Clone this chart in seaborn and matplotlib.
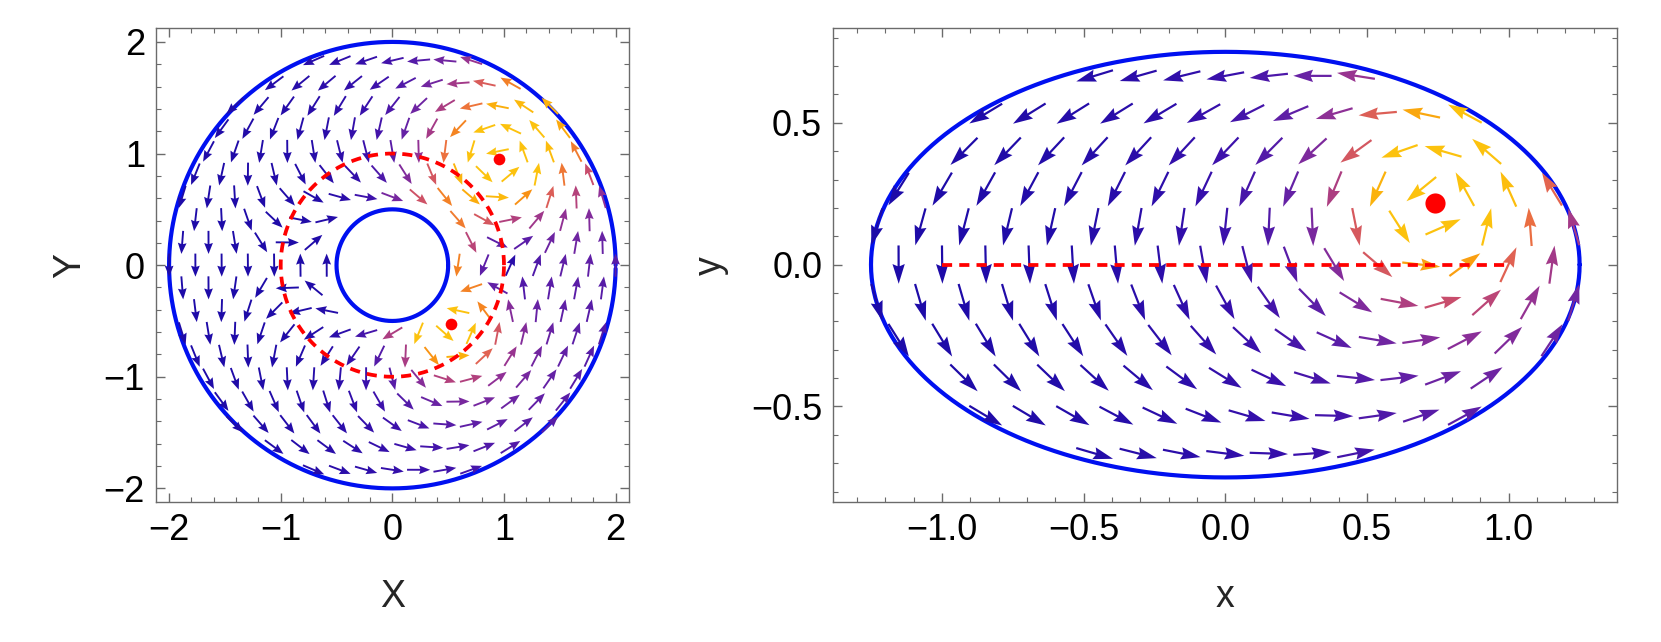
import numpy as np
import matplotlib
matplotlib.use("Agg")
import matplotlib.pyplot as plt
from matplotlib.ticker import MultipleLocator
import seaborn as sns

# ---------------------------------------------------------------------------
# Chart data
# Point vortex inside an ellipse, shown in the annulus plane (left, X/Y)
# and mapped to the ellipse with w = (Z + 1/Z) / 2 (right, x/y)
annulus_radii = [0.5, 2.0]            # inner / outer circle of the annulus
slit_circle_radius = 1.0              # dashed red circle, maps to the slit
vortex_Z = [0.955, 0.955]             # vortex position in the annulus plane
slit_ends = [-1.0, 1.0]               # dashed red segment in the ellipse plane

left_ticks = [-2, -1, 0, 1, 2]
right_xticks = [-1.0, -0.5, 0.0, 0.5, 1.0]
right_yticks = [-0.5, 0.0, 0.5]

# colour ramp of the arrows (slow -> fast)
arrow_colours = ["#1d0ba8", "#3a10ab", "#6220a6", "#8f3096", "#c44a70",
                 "#e8694a", "#f88c16", "#fbae0c", "#fcc20e"]

# ---------------------------------------------------------------------------
sns.set_theme(style="ticks")
plt.rcParams['font.family'] = ['Liberation Sans', 'DejaVu Sans']
plt.rcParams['axes.unicode_minus'] = True

a, b = annulus_radii
z0 = complex(vortex_Z[0], vortex_Z[1])
z1 = 1 / z0               # the second pre-image of the same point in the ellipse
q = (a / b) ** 2


def image_sum(Z, zeta, deriv=True, N=5):
    # method of images for a vortex in the annulus a < |Z| < b
    out = 0
    for n in range(-N, N + 1):
        p = zeta * q ** n
        m = b * b * q ** n / np.conj(zeta)
        if deriv:
            out = out + 1 / (Z - p) - 1 / (Z - m)
        else:
            out = out + np.log(np.abs(Z - p)) - np.log(np.abs(Z - m))
    return out


# log|Z| term so the stream function is the same (zero) on both circles
th = np.linspace(0, 2 * np.pi, 400, endpoint=False)
m_in = np.mean(image_sum(a * np.exp(1j * th), z0, False) + image_sum(a * np.exp(1j * th), z1, False))
m_out = np.mean(image_sum(b * np.exp(1j * th), z0, False) + image_sum(b * np.exp(1j * th), z1, False))
alpha = (m_out - m_in) / (np.log(a) - np.log(b))


def vel_Z(Z):
    dF = image_sum(Z, z0) + image_sum(Z, z1) + alpha / Z
    uv = -1j * dF            # u - i v
    return uv.real, -uv.imag


def vel_w(w):
    Z = w + np.sqrt(w * w - 1 + 0j)
    Z = np.where(np.abs(Z) < 1, 1 / Z, Z)
    dF = image_sum(Z, z0) + image_sum(Z, z1) + alpha / Z
    uv = -1j * dF / (0.5 * (1 - 1 / Z ** 2))
    return uv.real, -uv.imag


def hex_grid(xmax, ymax, d):
    dy = d * np.sqrt(3) / 2
    nk = int(ymax / dy) + 1
    nj = int(xmax / d) + 2
    pts = []
    for k in range(-nk, nk + 1):
        off = 0.5 * d if k % 2 == 0 else 0.0
        for j in range(-nj, nj + 1):
            pts.append((j * d + off, k * dy))
    pts = np.array(pts)
    return pts[:, 0], pts[:, 1]


cmap = sns.blend_palette(arrow_colours, as_cmap=True)


def draw_arrows(ax, X, Y, U, V, L, width, hw, hl, hal, top=95):
    s = np.hypot(U, V)
    lo, hi = s.min(), np.percentile(s, top)
    c = np.clip((s - lo) / (hi - lo), 0, 1)
    ax.quiver(X, Y, U / s * L, V / s * L, color=cmap(c), angles='xy',
              scale_units='xy', scale=1, pivot='middle', units='dots',
              width=width, headwidth=hw, headlength=hl, headaxislength=hal,
              zorder=3)


def style_axes(ax, minor):
    for sp in ax.spines.values():
        sp.set_color('#6b6b6b')
        sp.set_linewidth(1.0)
    ax.xaxis.set_minor_locator(MultipleLocator(minor))
    ax.yaxis.set_minor_locator(MultipleLocator(minor))
    ax.tick_params(which='both', direction='in', top=True, right=True,
                   color='#6b6b6b', labelsize=26, labelcolor='black')
    ax.tick_params(which='major', length=6.5, width=1.0, pad=8)
    ax.tick_params(which='minor', length=3.4, width=0.8)


def minus(v, fmt):
    return (fmt % v).replace('-', '\u2212')


fig = plt.figure(figsize=(16.61, 6.42), dpi=100)
ax1 = fig.add_axes([156 / 1661, 140 / 642, 472.7 / 1661, 473.7 / 642])
ax2 = fig.add_axes([833.3 / 1661, 140 / 642, 784 / 1661, 473.7 / 642])

# ---------------- left: annulus plane ----------------
xl1, yl1 = 2.117, 2.122
d1 = 2 * xl1 / 18
X, Y = hex_grid(xl1, yl1, d1)
r = np.hypot(X, Y)
keep = (r > 0.55) & (r < 2.01)
X, Y = X[keep], Y[keep]
U, V = vel_Z(X + 1j * Y)
draw_arrows(ax1, X, Y, U, V, 0.88 * d1, 1.9, 4.6, 5.8, 5.2)

for rad in annulus_radii:
    ax1.plot(rad * np.cos(th), rad * np.sin(th), color='#0010f0', lw=3.0, zorder=2)
ax1.plot(np.append(np.cos(th), 1), np.append(np.sin(th), 0), color='red', lw=2.7,
         linestyle=(0, (2.7, 1.9)), zorder=4)
ax1.plot([z0.real, z1.real], [z0.imag, z1.imag], 'o', color='red', ms=8.4, mec='none', zorder=5)

ax1.set_xlim(-xl1, xl1)
ax1.set_ylim(-yl1, yl1)
ax1.set_xticks(left_ticks, labels=[minus(t, '%d') for t in left_ticks])
ax1.set_yticks(left_ticks, labels=[minus(t, '%d') for t in left_ticks])
style_axes(ax1, 0.2)
ax1.set_xlabel('X', fontsize=27, labelpad=22)
ax1.set_ylabel('Y', fontsize=27, labelpad=11)

# ---------------- right: ellipse plane ----------------
xl2, yl2 = 1.383, 0.835
d2 = 2 * xl2 / 18
A = 0.5 * (b + 1 / b)
B = 0.5 * (b - 1 / b)
X, Y = hex_grid(xl2, yl2, d2)
keep = (X / A) ** 2 + (Y / B) ** 2 < 1.0
X, Y = X[keep], Y[keep]
U, V = vel_w(X + 1j * Y)
draw_arrows(ax2, X, Y, U, V, 0.88 * d2, 2.2, 5.6, 9.0, 8.0)

wb = 0.5 * (b * np.exp(1j * th) + np.exp(-1j * th) / b)
ax2.plot(np.append(wb.real, wb.real[0]), np.append(wb.imag, wb.imag[0]), color='#0010f0', lw=3.0, zorder=2)
ax2.plot(slit_ends, [0, 0], color='red', lw=2.7, linestyle=(0, (2.7, 1.9)), zorder=4)
w0 = 0.5 * (z0 + 1 / z0)
ax2.plot([w0.real], [w0.imag], 'o', color='red', ms=14.5, mec='none', zorder=5)

ax2.set_xlim(-xl2, xl2)
ax2.set_ylim(-0.8366, 0.833)
ax2.set_xticks(right_xticks, labels=[minus(t, '%.1f') for t in right_xticks])
ax2.set_yticks(right_yticks, labels=[minus(t, '%.1f') for t in right_yticks])
style_axes(ax2, 0.1)
ax2.set_xlabel('x', fontsize=27, labelpad=22)
ax2.set_ylabel('y', fontsize=27, labelpad=16)

fig.savefig('out.png', dpi=100, facecolor='white')
